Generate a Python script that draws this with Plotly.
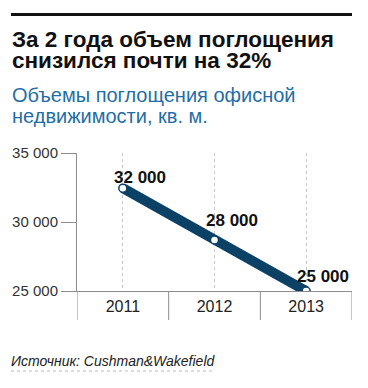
import plotly.graph_objects as go

years = ["2011", "2012", "2013"]
values = [32450, 28700, 25000]
value_labels = ["32 000", "28 000", "25 000"]
y_ticks = [25000, 30000, 35000]
y_tick_labels = ["25 000", "30 000", "35 000"]

W, H = 368, 388
OFF = 8  # page body margin offset compensation
def px_x(x): return (x - OFF) / W
def px_y(y): return 1 - (y - OFF) / H

NAVY = "#0c4166"
GRAY = "#8c8c8c"
FONT = "Liberation Sans, Arial, sans-serif"

fig = go.Figure()
fig.add_trace(go.Scatter(
    x=years, y=values, mode="lines+markers",
    line=dict(color=NAVY, width=10),
    marker=dict(size=8, color="white", line=dict(color=NAVY, width=1.5)),
    hoverinfo="skip", showlegend=False,
))

label_dy = [11, 19, 15]
annotations = []
for i, (v, t, dy) in enumerate(zip(values, value_labels, label_dy)):
    annotations.append(dict(x=i, y=v, xref="x", yref="y", text="<b>" + t + "</b>",
                            showarrow=False, xshift=17, yshift=dy,
                            font=dict(family=FONT, size=17, color="#111111")))

def txt(text, x, y, size, color, bold=False, italic=False):
    if bold:
        text = "<b>" + text + "</b>"
    if italic:
        text = "<i>" + text + "</i>"
    return dict(text=text, x=px_x(x), y=px_y(y), xref="paper", yref="paper",
                xanchor="left", yanchor="middle", showarrow=False,
                font=dict(family=FONT, size=size, color=color))

annotations += [
    txt("За 2 года объем поглощения", 10, 39.5, 22.5, "#111111", bold=True),
    txt("снизился почти на 32%", 10, 61, 22.5, "#111111", bold=True),
    txt("Объемы поглощения офисной", 10, 95, 20, "#1f6ea6"),
    txt("недвижимости, кв. м.", 10, 115.5, 20, "#1f6ea6"),
    txt("Источник: Cushman&Wakefield", 9, 361, 14, "#222222", italic=True),
]

shapes = [
    dict(type="line", xref="paper", yref="paper", x0=px_x(11), x1=px_x(352),
         y0=px_y(14.5), y1=px_y(14.5), line=dict(color="#111111", width=3)),
    dict(type="line", xref="paper", yref="paper", x0=px_x(11), x1=px_x(213),
         y0=px_y(371), y1=px_y(371), line=dict(color="#bbbbbb", width=1, dash="dot")),
]
for xv in [-0.5, 0.5, 1.5, 2.5]:
    shapes.append(dict(type="line", xref="x", yref="paper", x0=xv, x1=xv,
                       y0=px_y(291), y1=px_y(320), line=dict(color=GRAY, width=1)))

fig.update_layout(
    width=W, height=H, margin=dict(l=0, r=0, t=0, b=0, autoexpand=False),
    paper_bgcolor="white", plot_bgcolor="white",
    annotations=annotations, shapes=shapes,
    xaxis=dict(domain=[px_x(77), px_x(352)], type="category", range=[-0.5, 2.5],
               showgrid=True, gridcolor="#c8c8c8", griddash="dot", gridwidth=1,
               showline=True, linecolor=GRAY, linewidth=1, ticks="", zeroline=False,
               tickfont=dict(family=FONT, size=16, color="#222222"), ticklabelstandoff=1,
               fixedrange=True),
    yaxis=dict(domain=[px_y(291), px_y(153)], range=[25000, 35000],
               tickvals=y_ticks, ticktext=y_tick_labels,
               showgrid=False, zeroline=False, showline=True, linecolor=GRAY, linewidth=1,
               ticks="outside", ticklen=15, tickcolor=GRAY, tickwidth=1,
               tickfont=dict(family=FONT, size=15, color="#333333"),
               fixedrange=True),
)

fig.write_html("out.html")
